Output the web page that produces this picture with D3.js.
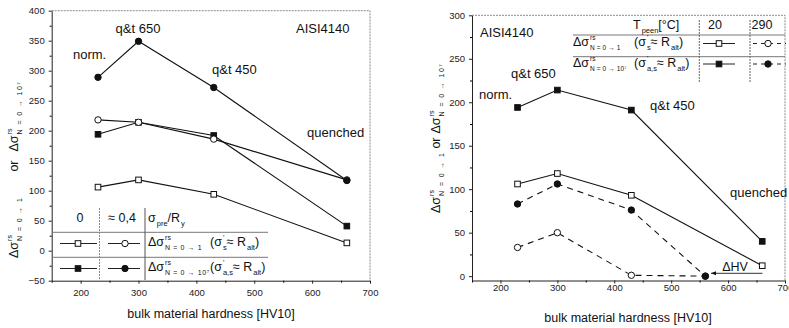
<!DOCTYPE html>
<html>
<head>
<meta charset="utf-8">
<script src="https://cdn.jsdelivr.net/npm/d3@7"></script>
<style>
  body { margin: 0; background: #fff; }
  svg { display: block; font-family: "Liberation Sans", Arial, sans-serif; }
  text { fill: #111; }
  .tick text { fill: #222; }
</style>
</head>
<body>
<svg id="chart" width="789" height="328"></svg>
<script>
// hardness of the four heat treatments (norm., q&t 650, q&t 450, quenched)
const hardness = [230, 300, 430, 660];
const xTicks = [200, 300, 400, 500, 600, 700];
const xMinor = [150, 250, 350, 450, 550, 650];

// left chart: sigma_pre/R_y = 0 (squares) and ~0.4 (circles)
const leftOpenSquare = [106, 118, 94, 13];
const leftOpenCircle = [218, 214, 186, 118];
const leftFilledSquare = [194, 214, 192, 41];
const leftFilledCircle = [289, 349, 272, 117];
const leftYTicks = [-50, 0, 50, 100, 150, 200, 250, 300, 350, 400];
const leftYMinor = [-25, 25, 75, 125, 175, 225, 275, 325, 375];

// right chart: T_peen = 20 °C (squares) and 290 °C (circles)
const hardness290 = [230, 300, 430, 560];
const rightOpenSquare = [106, 118, 93, 12];
const rightFilledSquare = [194, 214, 191, 40];
const rightOpenCircle = [33, 50, 1, 0];
const rightFilledCircle = [83, 106, 76, 0];
const rightYTicks = [0, 50, 100, 150, 200, 250, 300];
const rightYMinor = [25, 75, 125, 175, 225, 275];

const svg = d3.select("#chart");

// text with stacked super/subscripts, returns end x
function rich(g, x, y, parts, fs) {
  let cx = x;
  parts.forEach(p => {
    if (p.gap) { cx += p.gap; return; }
    if (p.t !== undefined) {
      const el = g.append("text").attr("x", cx).attr("y", y).attr("font-size", fs).text(p.t);
      cx += el.node().getComputedTextLength();
      return;
    }
    const sfs = p.fs || fs * 0.55;
    let w = 0;
    if (p.sup) {
      const el = g.append("text").attr("x", cx + 1).attr("y", y - fs * 0.5)
        .attr("font-size", sfs).text(p.sup);
      w = Math.max(w, el.node().getComputedTextLength() + 1);
    }
    if (p.sub) {
      const el = g.append("text").attr("x", cx + 1).attr("y", y + fs * 0.3)
        .attr("font-size", sfs).attr("letter-spacing", p.ls || 0).text(p.sub);
      w = Math.max(w, el.node().getComputedTextLength() + 1);
    }
    cx += w;
  });
  return cx;
}

function drawAxes(x, y, yTicks, yMinor, xPad) {
  const [x0, x1] = x.range();
  const [y0, y1] = y.range();
  // top / right frame (grey, scanned look)
  svg.append("path")
    .attr("d", `M${x0},${y1}H${x1}V${y0}`)
    .attr("fill", "none").attr("stroke", "#8a8a8a").attr("stroke-width", 1)
    .attr("stroke-dasharray", "2,1");

  const ax = svg.append("g").attr("transform", `translate(0,${y0})`)
    .call(d3.axisBottom(x).tickValues(xTicks).tickSize(3).tickSizeOuter(0).tickPadding(xPad));
  svg.append("g").attr("transform", `translate(0,${y0})`)
    .call(d3.axisBottom(x).tickValues(xMinor).tickSize(2).tickSizeOuter(0).tickFormat(""))
    .select(".domain").remove();
  const ay = svg.append("g").attr("transform", `translate(${x0},0)`)
    .call(d3.axisLeft(y).tickValues(yTicks).tickSize(3).tickSizeOuter(0).tickPadding(4));
  svg.append("g").attr("transform", `translate(${x0},0)`)
    .call(d3.axisLeft(y).tickValues(yMinor).tickSize(2).tickSizeOuter(0).tickFormat(""))
    .select(".domain").remove();
  [ax, ay].forEach(a => {
    a.selectAll("text").attr("font-size", 9.5).attr("font-family", "Liberation Sans, Arial, sans-serif");
    a.selectAll("line, path").attr("stroke", "#222");
  });
}

function drawLine(x, y, xs, ys, dash) {
  svg.append("path")
    .datum(xs.map((d, i) => [d, ys[i]]))
    .attr("d", d3.line().x(d => x(d[0])).y(d => y(d[1])))
    .attr("fill", "none").attr("stroke", "#111").attr("stroke-width", 1.1)
    .attr("stroke-dasharray", dash || null);
}

function marker(g, cx, cy, shape, filled) {
  if (shape === "square") {
    g.append("rect").attr("x", cx - 2.8).attr("y", cy - 2.8).attr("width", 5.6).attr("height", 5.6)
      .attr("fill", filled ? "#111" : "#fff").attr("stroke", "#111").attr("stroke-width", 1);
  } else {
    g.append("circle").attr("cx", cx).attr("cy", cy).attr("r", 3.2)
      .attr("fill", filled ? "#111" : "#fff").attr("stroke", "#111").attr("stroke-width", 1);
  }
}

function drawMarkers(x, y, xs, ys, shape, filled) {
  const g = svg.append("g");
  xs.forEach((d, i) => marker(g, x(d), y(ys[i]), shape, filled));
}

function label(px, py, str, anchor) {
  svg.append("text").attr("x", px).attr("y", py).attr("font-size", 13)
    .attr("text-anchor", anchor || "start").text(str);
}

function yTitle(px, py, gap1, gap2) {
  const g = svg.append("g").attr("transform", `translate(${px},${py}) rotate(-90)`);
  rich(g, 0, 0, [
    { t: "Δσ" }, { sup: "rs", sub: "N = 0 → 1", fs: 7, ls: 1.4 },
    { gap: gap1 }, { t: "or" }, { gap: gap2 },
    { t: "Δσ" }, { sup: "rs", sub: "N = 0 → 10⁷", fs: 7, ls: 1.4 }
  ], 12.5);
}

const sigmaRow1 = [{ t: "Δσ" }, { sup: "rs", sub: "N = 0 → 1", fs: 7, ls: 0.6 }];
const sigmaRow2 = [{ t: "Δσ" }, { sup: "rs", sub: "N = 0 → 10⁷", fs: 7, ls: 0.6 }];
const sigmaRow1s = [{ t: "Δσ" }, { sup: "rs", sub: "N = 0 → 1", fs: 6.5, ls: 0.1 }];
const sigmaRow2s = [{ t: "Δσ" }, { sup: "rs", sub: "N = 0 → 10⁷", fs: 6.5, ls: 0.1 }];
const ratio1 = [{ t: "(σ" }, { sup: "'", sub: "s", fs: 7.5 }, { t: " ≈ R" }, { sub: "alt", fs: 7.5 }, { t: ")" }];
const ratio2 = [{ t: "(σ" }, { sup: "'", sub: "a,s", fs: 7.5 }, { t: " ≈ R" }, { sub: "alt", fs: 7.5 }, { t: ")" }];

// ---------------- left chart ----------------
{
  const x = d3.scaleLinear().domain([150, 700]).range([51.7, 370]);
  const y = d3.scaleLinear().domain([-50, 400]).range([280.7, 10.7]);
  drawAxes(x, y, leftYTicks, leftYMinor, 6);

  drawLine(x, y, hardness, leftOpenSquare);
  drawLine(x, y, hardness, leftOpenCircle);
  drawLine(x, y, hardness, leftFilledSquare);
  drawLine(x, y, hardness, leftFilledCircle);
  drawMarkers(x, y, hardness, leftFilledSquare, "square", true);
  drawMarkers(x, y, hardness, leftOpenCircle, "circle", false);
  drawMarkers(x, y, hardness, leftFilledCircle, "circle", true);
  drawMarkers(x, y, hardness, leftOpenSquare, "square", false);

  label(138, 33, "q&t 650", "middle");
  label(73, 59, "norm.");
  label(212, 74, "q&t 450");
  label(296, 33, "AISI4140");
  label(307, 137, "quenched");

  // legend table
  const lg = svg.append("g");
  lg.append("path").attr("d", "M52,232.3H268M52,257.3H268")
    .attr("stroke", "#777").attr("stroke-width", 1).attr("fill", "none");
  lg.append("path").attr("d", "M99.5,208V280").attr("stroke", "#888")
    .attr("stroke-dasharray", "2,1").attr("fill", "none");
  lg.append("path").attr("d", "M145,208V280").attr("stroke", "#555").attr("fill", "none");
  lg.append("text").attr("x", 80).attr("y", 222).attr("font-size", 12.5)
    .attr("text-anchor", "middle").text("0");
  lg.append("text").attr("x", 122).attr("y", 222).attr("font-size", 12.5)
    .attr("text-anchor", "middle").text("≈ 0,4");
  rich(lg, 148, 222, [{ t: "σ" }, { sub: "pre", fs: 7.5 }, { t: "/R" }, { sub: "y", fs: 7.5 }], 12.5);
  [[243.5, false], [268.5, true]].forEach(([ry, filled]) => {
    lg.append("path").attr("d", `M60,${ry}H97M108,${ry}H140`).attr("stroke", "#222").attr("fill", "none");
    marker(lg, 78, ry, "square", filled);
    marker(lg, 125, ry, "circle", filled);
  });
  rich(lg, 148, 246, sigmaRow1, 12.5);
  rich(lg, 210, 246, ratio1, 12.5);
  rich(lg, 148, 271, sigmaRow2, 12.5);
  rich(lg, 210, 271, ratio2, 12.5);

  yTitle(18, 258, 25, 9);
  svg.append("text").attr("x", 211).attr("y", 318).attr("font-size", 12.5)
    .attr("text-anchor", "middle").text("bulk material hardness [HV10]");
}

// ---------------- right chart ----------------
{
  const x = d3.scaleLinear().domain([150, 700]).range([472, 785]);
  const y = d3.scaleLinear().domain([-5, 300]).range([280.5, 15.3]);
  drawAxes(x, y, rightYTicks, rightYMinor, 1);

  drawLine(x, y, hardness, rightOpenSquare);
  drawLine(x, y, hardness, rightFilledSquare);
  drawLine(x, y, hardness290, rightOpenCircle, "6,5");
  drawLine(x, y, hardness290, rightFilledCircle, "6,5");
  drawMarkers(x, y, hardness, rightOpenSquare, "square", false);
  drawMarkers(x, y, hardness, rightFilledSquare, "square", true);
  drawMarkers(x, y, hardness290, rightOpenCircle, "circle", false);
  drawMarkers(x, y, hardness290, rightFilledCircle, "circle", true);

  label(480, 37, "AISI4140");
  label(511, 78, "q&t 650");
  label(479, 99, "norm.");
  label(650, 110, "q&t 450");
  label(730, 197, "quenched");

  // ΔHV arrow
  svg.append("defs").append("marker").attr("id", "arr").attr("viewBox", "0 0 10 10")
    .attr("refX", 10).attr("refY", 5).attr("markerWidth", 7).attr("markerHeight", 5)
    .attr("orient", "auto").append("path").attr("d", "M0,1L10,5L0,9Z").attr("fill", "#111");
  svg.append("path").attr("d", "M762.5,273.3H711").attr("stroke", "#333")
    .attr("marker-end", "url(#arr)");
  svg.append("text").attr("x", 735).attr("y", 271).attr("font-size", 12.5)
    .attr("text-anchor", "middle").text("ΔHV");

  // legend table
  const lg = svg.append("g");
  lg.append("path").attr("d", "M573,35H785M573,56.7H785")
    .attr("stroke", "#777").attr("fill", "none");
  lg.append("path").attr("d", "M699.3,20V82M750,20V82").attr("stroke", "#666")
    .attr("stroke-dasharray", "2,1").attr("fill", "none");
  rich(lg, 633, 29, [{ t: "T" }, { sub: "peen", fs: 7.5 }, { t: " [°C]" }], 12.5);
  lg.append("text").attr("x", 715).attr("y", 29).attr("font-size", 12.5)
    .attr("text-anchor", "middle").text("20");
  lg.append("text").attr("x", 762).attr("y", 29).attr("font-size", 12.5)
    .attr("text-anchor", "middle").text("290");
  [[43.5, false], [64, true]].forEach(([ry, filled]) => {
    lg.append("path").attr("d", `M703,${ry}H735`).attr("stroke", "#222").attr("fill", "none");
    lg.append("path").attr("d", `M753,${ry}H786`).attr("stroke", "#222")
      .attr("stroke-dasharray", "4,4").attr("fill", "none");
    marker(lg, 719, ry, "square", filled);
    marker(lg, 768, ry, "circle", filled);
  });
  rich(lg, 573, 46, sigmaRow1s, 12.5);
  rich(lg, 634, 46, ratio1, 12.5);
  rich(lg, 573, 67, sigmaRow2s, 12.5);
  rich(lg, 634, 67, ratio2, 12.5);

  yTitle(440, 213, 3, 4);
  svg.append("text").attr("x", 628).attr("y", 322).attr("font-size", 12.5)
    .attr("text-anchor", "middle").text("bulk material hardness [HV10]");
}
</script>
</body>
</html>
